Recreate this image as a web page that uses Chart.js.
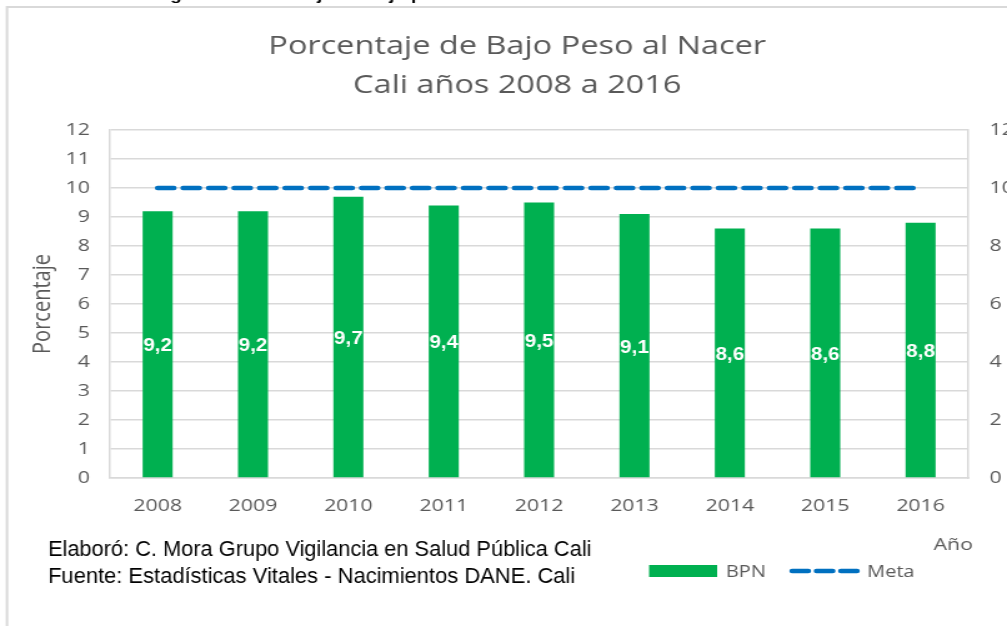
<!DOCTYPE html>
<html>
<head>
<meta charset="utf-8">
<script src="https://cdn.jsdelivr.net/npm/chart.js@4.4.1/dist/chart.umd.min.js"></script>
<style>
  html, body { margin: 0; padding: 0; background: #fff; overflow: hidden; }
</style>
</head>
<body>
<!-- el lienzo se dibuja más angosto y se ensancha por CSS: letra ancha estilo Excel -->
<canvas id="bpn" width="806" height="626" style="display:block;width:1007px;height:626px"></canvas>
<script>
// datos BPN Cali
var anios = ['2008', '2009', '2010', '2011', '2012', '2013', '2014', '2015', '2016'];
var bpn = [9.2, 9.2, 9.7, 9.4, 9.5, 9.1, 8.6, 8.6, 8.8];
var meta = [10, 10, 10, 10, 10, 10, 10, 10, 10];
var ticksIzq = [0, 1, 2, 3, 4, 5, 6, 7, 8, 9, 10, 11, 12];
var ticksDer = [0, 2, 4, 6, 8, 10, 12];

var gris = '#595959';
var lineaGris = '#d9d9d9';
var verde = '#00B050';
var azul = '#0070C0';
var fuente = '"Open Sans", sans-serif';

// texto angosto: se comprime para ocupar el ancho dado
function textoAncho(ctx, txt, x, y, ancho) {
    var sx = ancho / ctx.measureText(txt).width;
    ctx.save();
    ctx.translate(x, y);
    ctx.scale(sx, 1);
    ctx.fillText(txt, 0, 0);
    ctx.restore();
}

// marco, leyenda, etiquetas y notas al pie
var extras = {
    id: 'extras',
    afterDatasetsDraw: function (chart) {
        var ctx = chart.ctx;
        var barras = chart.getDatasetMeta(0);
        ctx.save();
        ctx.fillStyle = '#fff';
        ctx.font = 'bold 18px "Liberation Sans", Arial, sans-serif';
        ctx.textAlign = 'center';
        ctx.textBaseline = 'middle';
        barras.data.forEach(function (bar, i) {
            var y = (bar.y + bar.base) / 2 + 2;
            textoAncho(ctx, bpn[i].toFixed(1).replace('.', ','), bar.x, y, 23);
        });
        ctx.restore();
    },
    afterDraw: function (chart) {
        var ctx = chart.ctx;
        ctx.save();

        // texto del documento que queda cortado arriba
        ctx.fillStyle = '#000';
        ctx.font = 'bold 15px "Liberation Sans", Arial, sans-serif';
        ctx.textAlign = 'left';
        ctx.textBaseline = 'alphabetic';
        ctx.fillText('Figura 8. Porcentaje de Bajo peso al nacer en Cali', 123, 0);

        // marco
        ctx.strokeStyle = lineaGris;
        ctx.lineWidth = 2;
        ctx.beginPath();
        ctx.moveTo(806, 7);
        ctx.lineTo(5.6, 7);
        ctx.lineTo(5.6, 626);
        ctx.stroke();

        // título eje x
        ctx.fillStyle = gris;
        ctx.font = '17px ' + fuente;
        ctx.textAlign = 'center';
        ctx.textBaseline = 'middle';
        ctx.fillText('Año', 763, 545);

        // leyenda
        ctx.fillStyle = verde;
        ctx.fillRect(519.5, 565, 54.5, 12);
        ctx.fillStyle = gris;
        ctx.font = '16px ' + fuente;
        ctx.textAlign = 'left';
        ctx.fillText('BPN', 581, 572);
        ctx.strokeStyle = azul;
        ctx.lineWidth = 4.5;
        ctx.lineCap = 'round';
        ctx.setLineDash([13, 6.5]);
        ctx.beginPath();
        ctx.moveTo(634, 571);
        ctx.lineTo(686, 571);
        ctx.stroke();
        ctx.setLineDash([]);
        ctx.fillText('Meta', 694, 572);

        // notas
        ctx.fillStyle = '#000';
        ctx.font = '22px "Liberation Sans", Arial, sans-serif';
        textoAncho(ctx, 'Elaboró: C. Mora Grupo Vigilancia en Salud Pública Cali', 38.4, 550, 435);
        textoAncho(ctx, 'Fuente: Estadísticas Vitales - Nacimientos DANE. Cali', 38.4, 577, 422);
        ctx.restore();
    }
};

new Chart(document.getElementById('bpn'), {
    type: 'bar',
    data: {
        labels: anios,
        datasets: [
            {
                label: 'BPN',
                data: bpn,
                backgroundColor: verde,
                barPercentage: 0.315,
                categoryPercentage: 1,
                yAxisID: 'y',
                order: 2
            },
            {
                type: 'line',
                label: 'Meta',
                data: meta,
                borderColor: azul,
                borderWidth: 4.5,
                borderDash: [13, 7.4],
                borderCapStyle: 'round',
                pointRadius: 0,
                fill: false,
                yAxisID: 'y',
                order: 1
            }
        ]
    },
    options: {
        responsive: false,
        animation: false,
        layout: { padding: { top: 0, left: 22, right: 0, bottom: 108 } },
        plugins: {
            legend: { display: false },
            tooltip: { enabled: false },
            title: {
                display: true,
                text: ['Porcentaje de Bajo Peso al Nacer', 'Cali años 2008 a 2016'],
                color: gris,
                font: { family: fuente, size: 26, weight: 'normal', lineHeight: 1.5 },
                padding: { top: 27, bottom: 25 }
            }
        },
        scales: {
            x: {
                grid: { display: false, drawTicks: false },
                border: { color: lineaGris, width: 1.5 },
                ticks: { color: gris, font: { family: fuente, size: 17 }, padding: 18 },
                afterFit: function (s) { s.height = 40; }
            },
            y: {
                min: 0,
                max: 12,
                afterBuildTicks: function (s) { s.ticks = ticksIzq.map(function (v) { return { value: v }; }); },
                grid: { color: lineaGris, lineWidth: 1.5, drawTicks: false },
                border: { color: lineaGris, width: 1.5 },
                ticks: { color: gris, font: { family: fuente, size: 17 }, padding: 16 },
                title: {
                    display: true,
                    text: 'Porcentaje',
                    color: gris,
                    font: { family: fuente, size: 20 },
                    padding: 0
                },
                afterFit: function (s) { s.width = 66; }
            },
            y2: {
                position: 'right',
                min: 0,
                max: 12,
                afterBuildTicks: function (s) { s.ticks = ticksDer.map(function (v) { return { value: v }; }); },
                grid: { drawOnChartArea: false, drawTicks: false },
                border: { color: lineaGris, width: 1.5 },
                ticks: { color: gris, font: { family: fuente, size: 17 }, padding: 17 },
                afterFit: function (s) { s.width = 31; }
            }
        }
    },
    plugins: [extras]
});
</script>
</body>
</html>
